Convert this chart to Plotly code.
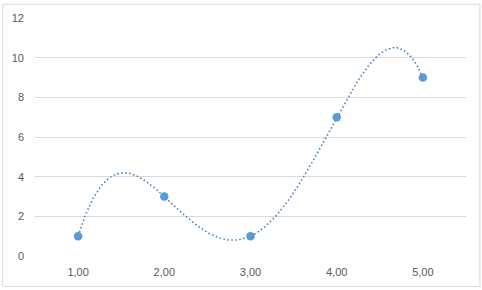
import numpy as np
import plotly.graph_objects as go

x_vals = [1, 2, 3, 4, 5]
y_vals = [1, 3, 1, 7, 9]
x_tick_vals = [1, 2, 3, 4, 5]
x_tick_text = ["1,00", "2,00", "3,00", "4,00", "5,00"]
y_tick_vals = [0, 2, 4, 6, 8, 10, 12]
trend_order = 4  # polynomial trendline order (Excel-style)

# polynomial trendline fitted to the data
coeffs = np.polyfit(x_vals, y_vals, trend_order)
xt = np.linspace(min(x_vals), max(x_vals), 300)
yt = np.polyval(coeffs, xt)

blue = "#5B9BD5"
fig = go.Figure()
fig.add_trace(go.Scatter(
    x=xt, y=yt, mode="lines",
    line=dict(dash="1.6px,2.4px", color="#4A86C2", width=1.6),
    hoverinfo="skip", showlegend=False))
fig.add_trace(go.Scatter(
    x=x_vals, y=y_vals, mode="markers",
    marker=dict(color=blue, size=8.5), showlegend=False))

font = dict(family="Liberation Sans, Arial, sans-serif", size=11, color="#595959")
fig.update_layout(
    width=482, height=290,
    margin=dict(l=33, r=16, t=15, b=33),
    paper_bgcolor="white", plot_bgcolor="white",
    font=font,
    xaxis=dict(range=[0.5, 5.5], tickvals=x_tick_vals, ticktext=x_tick_text,
               showgrid=False, zeroline=False, showline=False,
               ticks="", ticklabelstandoff=8, tickfont=font, fixedrange=True),
    yaxis=dict(range=[0, 12], tickvals=y_tick_vals, showgrid=True,
               gridcolor="#D9D9D9", gridwidth=1, zeroline=False, showline=False,
               ticks="", ticklabelstandoff=10, tickfont=font, fixedrange=True),
    shapes=[dict(type="rect", xref="paper", yref="paper",
                 x0=-33/433 + 0.5/433, x1=1 + 14/433,
                 y0=-31/242, y1=1 + 14/242,
                 line=dict(color="#D9D9D9", width=1), layer="below")],
)
fig.write_html("out.html")
